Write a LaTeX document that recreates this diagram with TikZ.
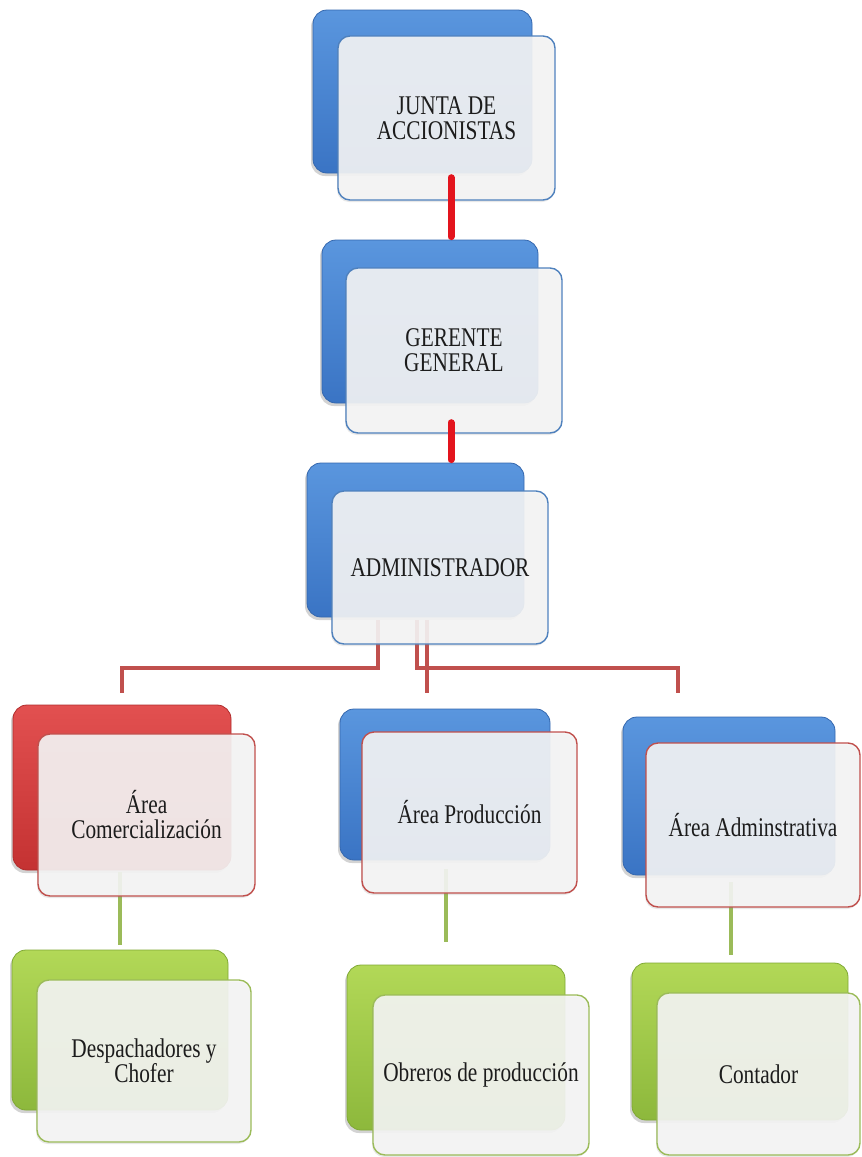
\documentclass[tikz,border=0pt]{standalone}
\usepackage{fontspec}
\setmainfont{Liberation Serif}[FakeStretch=0.79]
\usetikzlibrary{shadows}

\definecolor{blueTop}{HTML}{5A96DE}
\definecolor{blueBot}{HTML}{3A74C4}
\definecolor{blueEdge}{HTML}{3467AE}
\definecolor{redTop}{HTML}{E25050}
\definecolor{redBot}{HTML}{C43232}
\definecolor{redEdge}{HTML}{B02C2C}
\definecolor{greenTop}{HTML}{B2D857}
\definecolor{greenBot}{HTML}{8DB83C}
\definecolor{greenEdge}{HTML}{7FA834}
\definecolor{frontFill}{HTML}{F5F5F5}
\definecolor{lineBlue}{HTML}{4F81BD}
\definecolor{lineRed}{HTML}{C0504D}
\definecolor{lineGreen}{HTML}{9BBB59}
\definecolor{trunkRed}{HTML}{E3141D}
\definecolor{textInk}{HTML}{1C1C1C}

\tikzset{
  backbox/.style={rounded corners=14pt, inner sep=0pt, line width=0.8pt,
    drop shadow={shadow xshift=-2pt, shadow yshift=-3pt, opacity=0.35}},
  blueback/.style={backbox, top color=blueTop, bottom color=blueBot, draw=blueEdge},
  redback/.style={backbox, top color=redTop, bottom color=redBot, draw=redEdge},
  greenback/.style={backbox, top color=greenTop, bottom color=greenBot, draw=greenEdge},
  frontbox/.style={rounded corners=12pt, line width=1.4pt, fill=frontFill,
    fill opacity=0.9, text opacity=1, align=center, text=textInk,
    font=\fontsize{27}{25}\selectfont,
    drop shadow={shadow xshift=-1pt, shadow yshift=-2pt, opacity=0.18}},
  bluefront/.style={frontbox, draw=lineBlue},
  redfront/.style={frontbox, draw=lineRed},
  greenfront/.style={frontbox, draw=lineGreen},
  trunk/.style={line width=7pt, draw=trunkRed, line cap=round},
  branch/.style={line width=4pt, draw=lineRed},
  leaf/.style={line width=4pt, draw=lineGreen}
}

\begin{document}
\begin{tikzpicture}[x=1pt, y=-1pt]
\useasboundingbox (0,0) rectangle (862,1157);

% back (coloured) boxes
\node[blueback,  minimum width=219pt, minimum height=163pt] (junta-b)   at (422.5, 91.5) {};
\node[blueback,  minimum width=216pt, minimum height=163pt] (gerente-b) at (430, 321.5) {};
\node[blueback,  minimum width=217pt, minimum height=154pt] (admin-b)   at (415.5, 540) {};
\node[redback,   minimum width=218pt, minimum height=165pt] (comer-b)   at (122, 787.5) {};
\node[blueback,  minimum width=210pt, minimum height=151pt] (prod-b)    at (445, 784.5) {};
\node[blueback,  minimum width=212pt, minimum height=158pt] (admv-b)    at (729, 796) {};
\node[greenback, minimum width=216pt, minimum height=160pt] (desp-b)    at (120, 1030) {};
\node[greenback, minimum width=218pt, minimum height=165pt] (obr-b)     at (456, 1047.5) {};
\node[greenback, minimum width=216pt, minimum height=157pt] (cont-b)    at (740, 1041.5) {};

% x positions of the connector drops
\coordinate (t1) at (451,0);
\coordinate (b1) at (378,0);
\coordinate (b2) at (417,0);
\coordinate (b3) at (678,0);
\coordinate (b4) at (427,0);
\coordinate (hy) at (0,668);
\coordinate (l1) at (120,0);
\coordinate (l2) at (446,0);
\coordinate (l3) at (731,0);

% front boxes are placed first as paths only, so connectors can refer to them
\path (446.5,118) coordinate (junta-c) (440,567.5) coordinate (admin-c);

% branches under the administrator
\draw[branch] (b1 |- 0,644) ++(0,-24) |- (comer-b.north |- hy) -- ++(0,25);
\draw[branch] (b2 |- 0,644) ++(0,-24) |- (b3 |- hy) -- ++(0,25);
\draw[branch] (b4 |- 0,644) ++(0,-24) -- ++(0,73);

% links from the areas to their staff
\draw[leaf, shorten >=5pt]  (l1 |- 0,896) ++(0,-24) -- (l1 |- desp-b.north);
\draw[leaf, shorten >=23pt] (l2 |- 0,893) ++(0,-24) -- (l2 |- obr-b.north);
\draw[leaf, shorten >=8pt]  (l3 |- 0,907) ++(0,-25) -- (l3 |- cont-b.north);

% front (text) boxes
\node[bluefront,  minimum width=217pt, minimum height=164pt] (junta)   at (446.5, 118) {JUNTA DE\\ACCIONISTAS};
\node[bluefront,  minimum width=216pt, minimum height=165pt] (gerente) at (454, 350.5) {GERENTE\\GENERAL};
\node[bluefront,  minimum width=216pt, minimum height=153pt] (admin)   at (440, 567.5) {ADMINISTRADOR};
\node[redfront,   minimum width=217pt, minimum height=162pt] (comer)   at (146.5, 815) {Área\\Comercialización};
\node[redfront,   minimum width=215pt, minimum height=161pt] (prod)    at (469.5, 812.5) {Área Producción};
\node[redfront,   minimum width=214pt, minimum height=164pt] (admv)    at (753, 825) {Área Adminstrativa};
\node[greenfront, minimum width=214pt, minimum height=162pt] (desp)    at (144, 1061) {Despachadores y\\Chofer};
\node[greenfront, minimum width=216pt, minimum height=160pt] (obr)     at (481, 1075) {Obreros de producción};
\node[greenfront, minimum width=203pt, minimum height=162pt] (cont)    at (758.5, 1074) {Contador};

% main line of command
\draw[trunk, shorten >=3pt] (t1 |- junta.south) ++(0,-23) -- (t1 |- gerente-b.north);
\draw[trunk, shorten >=3pt] (t1 |- gerente.south) ++(0,-11) -- (t1 |- admin-b.north);
\end{tikzpicture}
\end{document}
